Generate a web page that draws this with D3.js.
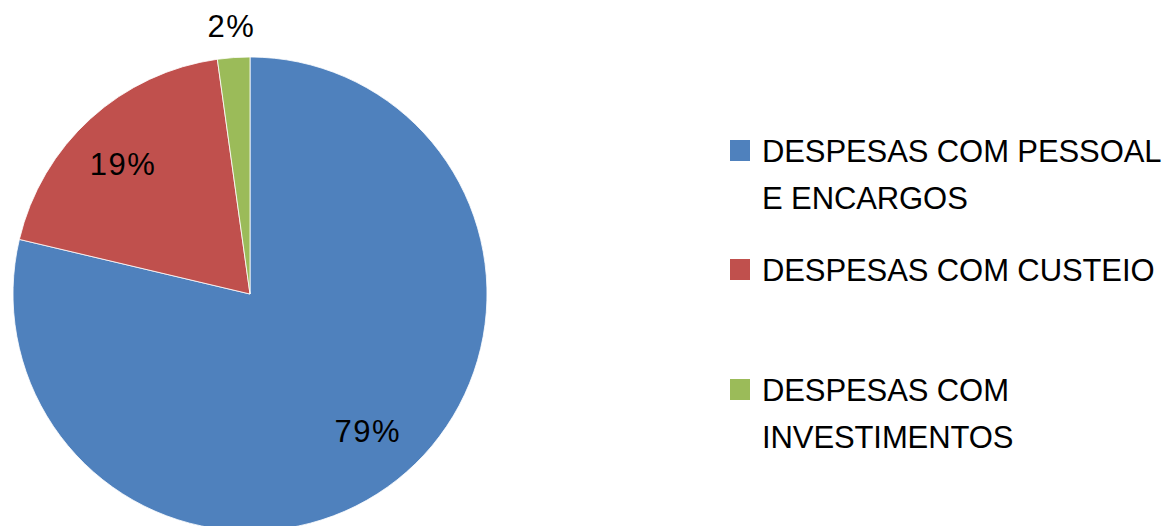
<!DOCTYPE html>
<html>
<head>
<meta charset="utf-8">
<script src="https://cdn.jsdelivr.net/npm/d3@7"></script>
<style>
  html, body { margin: 0; padding: 0; background: #fff; }
  svg { display: block; }
</style>
</head>
<body>
<svg id="chart" width="1166" height="526"></svg>
<script>
const categories = ["DESPESAS COM PESSOAL E ENCARGOS", "DESPESAS COM CUSTEIO", "DESPESAS COM INVESTIMENTOS"];
const values = [78.7, 19.1, 2.2];
const percentLabels = ["79%", "19%", "2%"];
const legendLines = [["DESPESAS COM PESSOAL", "E ENCARGOS"], ["DESPESAS COM CUSTEIO"], ["DESPESAS COM", "INVESTIMENTOS"]];
const colors = ["#4F81BD", "#C0504D", "#9BBB59"];

const svg = d3.select("#chart");
const cx = 250, cy = 294, R = 237;
const font = "'Liberation Sans', Arial, sans-serif";

const data = categories.map((c, i) => ({ cat: c, value: values[i], label: percentLabels[i], lines: legendLines[i] }));
const color = d3.scaleOrdinal().domain(categories).range(colors);

const pie = d3.pie().sort(null).value(d => d.value);
const arcs = pie(data);
const arc = d3.arc().innerRadius(0).outerRadius(R);
const labelArc = d3.arc().innerRadius(181).outerRadius(181);
const outerArc = d3.arc().innerRadius(268).outerRadius(268);

const g = svg.append("g").attr("transform", `translate(${cx},${cy})`);
g.selectAll("path").data(arcs).join("path")
  .attr("d", arc)
  .attr("fill", d => color(d.data.cat))
  .attr("stroke", "#fff")
  .attr("stroke-width", 0.8);

g.selectAll("text.pct").data(arcs).join("text")
  .attr("class", "pct")
  .attr("transform", d => {
    const small = (d.endAngle - d.startAngle) < 0.3;
    const a = (d.startAngle + d.endAngle) / 2 - (small ? 0 : 0.04);
    const r = small ? 268 : 181;
    return `translate(${r * Math.sin(a)},${-r * Math.cos(a)})`;
  })
  .attr("text-anchor", "middle")
  .attr("dy", "0.33em")
  .attr("font-family", font)
  .attr("font-size", 31)
  .attr("letter-spacing", 1.5)
  .attr("fill", "#000")
  .text(d => d.data.label);

// Legend
const legendY = [162, 281, 401];
const lineH = 47;
const lg = svg.append("g");
const items = lg.selectAll("g").data(data).join("g")
  .attr("transform", (d, i) => `translate(730,${legendY[i]})`);
items.append("rect")
  .attr("x", 0).attr("y", -22)
  .attr("width", 20).attr("height", 21)
  .attr("fill", d => color(d.cat));
items.each(function(d) {
  const t = d3.select(this).append("text")
    .attr("font-family", font)
    .attr("font-size", 31)
    .attr("letter-spacing", -0.1)
    .attr("fill", "#000");
  d.lines.forEach((ln, j) => {
    t.append("tspan").attr("x", 32).attr("y", j * lineH).text(ln);
  });
});
</script>
</body>
</html>
